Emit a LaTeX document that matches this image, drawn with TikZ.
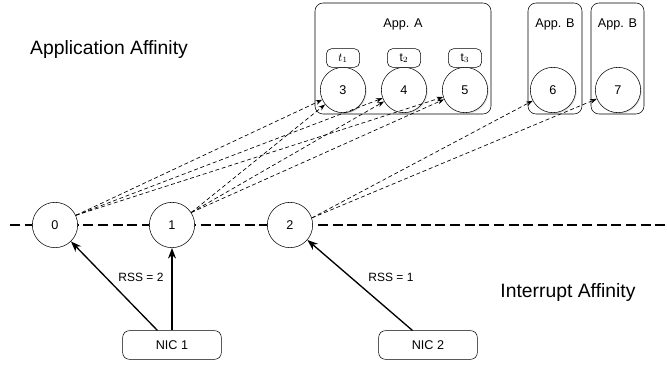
\documentclass[tikz,border=0pt]{standalone}
\usepackage{fontspec}
\setmainfont{Liberation Sans}
\usetikzlibrary{arrows.meta,shadows}
\begin{document}
\begin{tikzpicture}[x=0.75pt,y=-0.75pt,
  core/.style={circle,draw,fill=white,minimum size=34pt,inner sep=0pt,font=\fontsize{9.5}{11}\selectfont},
  thread/.style={core,drop shadow={opacity=0.25,shadow xshift=0.8pt,shadow yshift=-0.8pt}},
  appbox/.style={draw,rounded corners=6pt},
  tag/.style={draw,rounded corners=4pt,fill=white,minimum width=25pt,minimum height=14pt,inner sep=0pt,font=\fontsize{9}{10}\selectfont},
  nic/.style={draw,rounded corners=5pt,fill=white,minimum width=74pt,minimum height=21.5pt,inner sep=0pt,font=\fontsize{9.5}{11}\selectfont},
  lbl/.style={font=\fontsize{9.5}{11}\selectfont},
  big/.style={font=\fontsize{14.5}{16}\selectfont},
  small/.style={font=\fontsize{9}{10}\selectfont},
  map/.style={densely dashed,line width=0.5pt,-{Stealth[length=5pt,width=3.5pt]}},
  irq/.style={line width=1pt,-{Stealth[length=8pt,width=6pt]}}]
\useasboundingbox (0,0) rectangle (667,364);

% application containers
\draw[appbox] (315,3) rectangle (491,114);
\draw[appbox] (528,3) rectangle (582,114);
\draw[appbox] (591,3) rectangle (644,114);
\node[lbl] (appA) at (403,24) {App. A};
\node[lbl] (appB1) at (555,24) {App. B};
\node[lbl] (appB2) at (617.5,24) {App. B};

% interrupt line
\coordinate (lineL) at (10,225);
\coordinate (lineR) at (667,225);
\draw[line width=1.6pt,dash pattern=on 7.5pt off 3.5pt] (lineL) -- (lineR);

% cores handling interrupts
\node[core] (c0) at (55,225) {0};
\node[core] (c1) at (172,225) {1};
\node[core] (c2) at (290,225) {2};

% application cores
\node[thread] (c3) at (343,90) {3};
\node[thread] (c4) at (404,90) {4};
\node[thread] (c5) at (465,90) {5};
\node[thread] (c6) at (553,90) {6};
\node[thread] (c7) at (618,90) {7};

\node[tag] (t1) at (343,58) {$t_1$};
\node[tag] (t2) at (404,58) {$\mathrm{t}_2$};
\node[tag] (t3) at (465,58) {$\mathrm{t}_3$};

% NICs
\node[nic] (nic1) at (172,345) {NIC 1};
\node[nic] (nic2) at (428,345) {NIC 2};

% labels
\node[big] (appaff) at (109,50) {Application Affinity};
\node[big] (intaff) at (568,292) {Interrupt Affinity};
\node[small] (rss2) at (141,277) {RSS = 2};
\node[small] (rss1) at (391,277) {RSS = 1};

% interrupt delivery
\path (nic1.north west) ++(35,0) coordinate (n1a);
\path (nic2.north west) ++(34,0) coordinate (n2a);
\draw[irq] (n1a) -- (c0);
\draw[irq] (nic1.north) -- (c1);
\draw[irq] (n2a) -- (c2);

% application affinity mapping
\foreach \t in {c3,c4,c5}{
  \draw[map] (c0.25) -- (\t);
  \draw[map] (c1.33) -- (\t);
}
\draw[map] (c2.18) -- (c6);
\draw[map] (c2.18) -- (c7);
\end{tikzpicture}
\end{document}
